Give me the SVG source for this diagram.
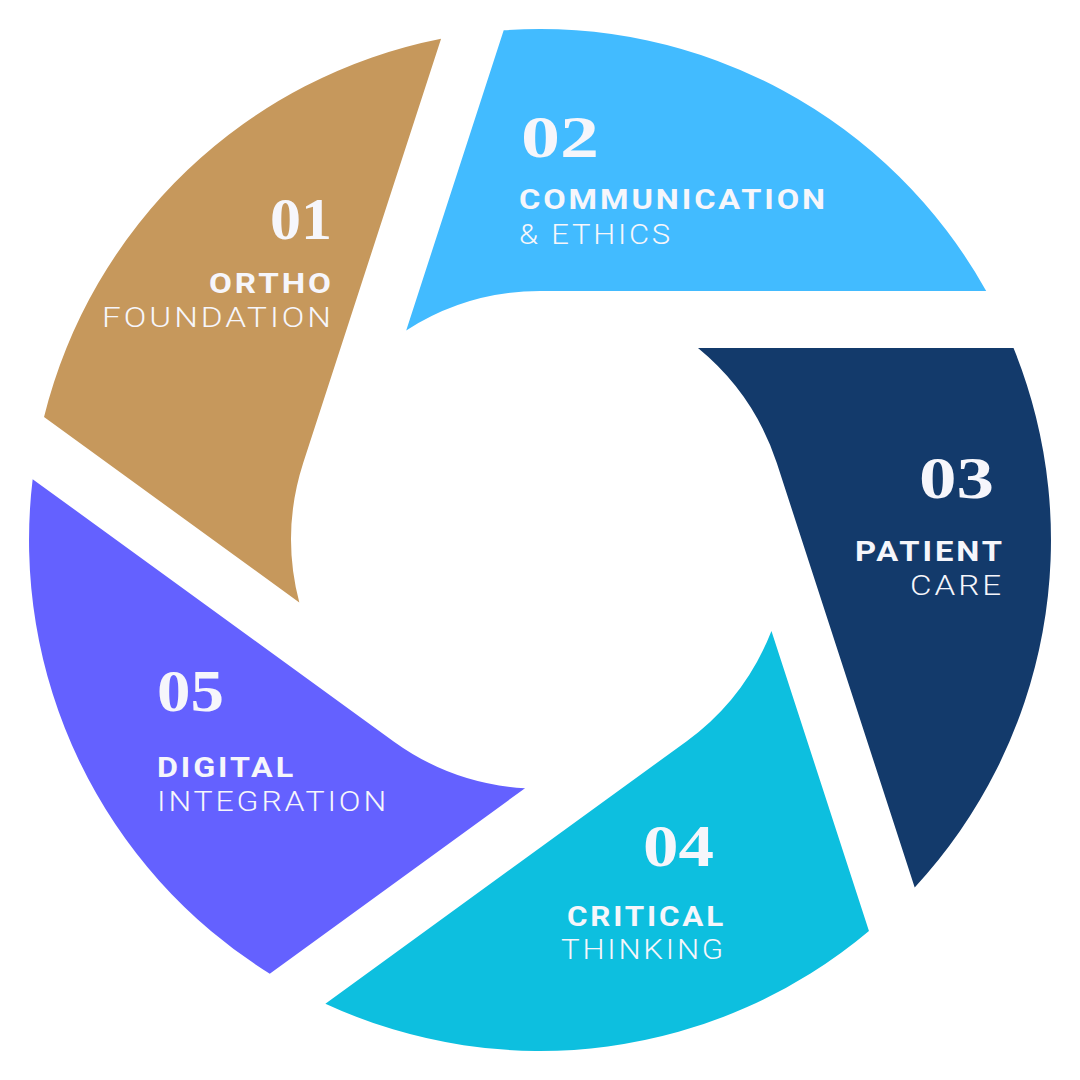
<svg xmlns="http://www.w3.org/2000/svg" xmlns:xlink="http://www.w3.org/1999/xlink" width="1080" height="1080" viewBox="0 0 1080 1080">
  <style>
    .num { font-family: "Liberation Serif", "DejaVu Serif", serif; font-weight: 700; font-size: 60px; fill: #F6F6FB; }
    .t1 { font-family: Roboto, "Liberation Sans", sans-serif; font-weight: 700; font-size: 28px; letter-spacing: 2.5px; fill: #F6F6FB; }
    .t2 { font-family: Roboto, "Liberation Sans", sans-serif; font-weight: 300; font-size: 28px; letter-spacing: 2.5px; fill: #F6F6FB; }
    .end { text-anchor: end; }
  </style>
  <defs>
    <path id="blade" d="M 503.7 30.3 A 511 511 0 0 1 986.2 291 L 540 291 A 249 249 0 0 0 406.2 330.4 Z"/>
  </defs>
  <rect x="0" y="0" width="1080" height="1080" fill="#FFFFFF"/>

  <g id="node-01">
    <use xlink:href="#blade" href="#blade" transform="rotate(288 540 540)" fill="#C6985C"/>
    <text class="num end" x="332" y="239" textLength="62" lengthAdjust="spacingAndGlyphs">01</text>
    <text class="t1 end" x="334" y="293" textLength="125" lengthAdjust="spacingAndGlyphs">ORTHO</text>
    <text class="t2 end" x="334" y="327" textLength="232" lengthAdjust="spacingAndGlyphs">FOUNDATION</text>
  </g>

  <g id="node-02">
    <use xlink:href="#blade" href="#blade" fill="#42BBFF"/>
    <text class="num" x="521" y="157" textLength="78" lengthAdjust="spacingAndGlyphs">02</text>
    <text class="t1" x="519" y="209" textLength="309" lengthAdjust="spacingAndGlyphs">COMMUNICATION</text>
    <text class="t2" x="519" y="244" textLength="154" lengthAdjust="spacingAndGlyphs">&amp; ETHICS</text>
  </g>

  <g id="node-03">
    <use xlink:href="#blade" href="#blade" transform="rotate(72 540 540)" fill="#133A6B"/>
    <text class="num end" x="994" y="498" textLength="75" lengthAdjust="spacingAndGlyphs">03</text>
    <text class="t1 end" x="1005" y="561" textLength="150" lengthAdjust="spacingAndGlyphs">PATIENT</text>
    <text class="t2 end" x="1004" y="595" textLength="94" lengthAdjust="spacingAndGlyphs">CARE</text>
  </g>

  <g id="node-04">
    <use xlink:href="#blade" href="#blade" transform="rotate(144 540 540)" fill="#0DBFDF"/>
    <text class="num end" x="714" y="866" textLength="71" lengthAdjust="spacingAndGlyphs">04</text>
    <text class="t1 end" x="726" y="926" textLength="159" lengthAdjust="spacingAndGlyphs">CRITICAL</text>
    <text class="t2 end" x="726" y="959" textLength="165" lengthAdjust="spacingAndGlyphs">THINKING</text>
  </g>

  <g id="node-05">
    <use xlink:href="#blade" href="#blade" transform="rotate(216 540 540)" fill="#6461FF"/>
    <text class="num" x="157" y="711" textLength="67" lengthAdjust="spacingAndGlyphs">05</text>
    <text class="t1" x="157" y="777" textLength="139" lengthAdjust="spacingAndGlyphs">DIGITAL</text>
    <text class="t2" x="157" y="811" textLength="232" lengthAdjust="spacingAndGlyphs">INTEGRATION</text>
  </g>
</svg>
